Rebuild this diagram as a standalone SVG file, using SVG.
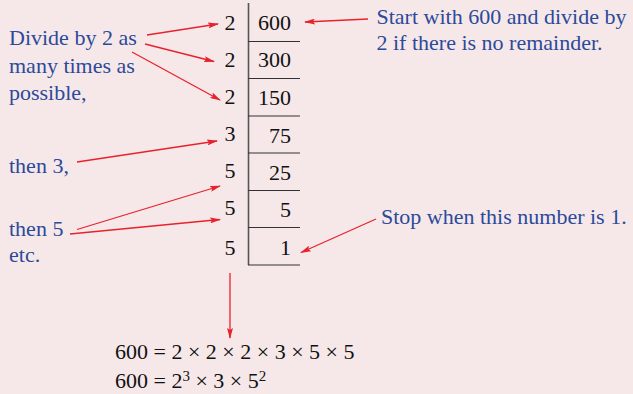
<svg xmlns="http://www.w3.org/2000/svg" width="633" height="394" viewBox="0 0 633 394">
<defs>
<marker id="ah" markerWidth="11" markerHeight="6" refX="10" refY="3" orient="auto" markerUnits="userSpaceOnUse">
<path d="M0,0 L11,3 L0,6 L2,3 Z" fill="#e8222c"/>
</marker>
<style>
.bg{fill:#f6e8e9}
.blue{font-family:"Liberation Serif","Times New Roman",serif;font-size:22px;fill:#2c4a9a}
.num{font-family:"Liberation Serif","Times New Roman",serif;font-size:22px;fill:#111}
.div{text-anchor:middle}
.val{text-anchor:end}
.rule{stroke:#333;stroke-width:1.2;fill:none}
.vrule{stroke:#555;stroke-width:1.6;fill:none}
.arr{stroke:#e8222c;stroke-width:1.3;fill:none;marker-end:url(#ah)}
</style>
</defs>
<rect class="bg" x="0" y="0" width="633" height="394"/>

<g id="table">
<line class="vrule" x1="248.5" y1="3" x2="248.5" y2="265"/>
<line class="rule" x1="248" y1="41.5" x2="300" y2="41.5"/>
<line class="rule" x1="248" y1="78.5" x2="300" y2="78.5"/>
<line class="rule" x1="248" y1="116" x2="300" y2="116"/>
<line class="rule" x1="248" y1="153" x2="300" y2="153"/>
<line class="rule" x1="248" y1="190.5" x2="300" y2="190.5"/>
<line class="rule" x1="248" y1="227.5" x2="300" y2="227.5"/>
<line class="rule" x1="248" y1="265" x2="300" y2="265"/>
</g>

<g id="divisors" class="num div">
<text class="num div" x="230" y="30">2</text>
<text class="num div" x="230" y="67">2</text>
<text class="num div" x="230" y="104">2</text>
<text class="num div" x="230" y="141">3</text>
<text class="num div" x="230" y="178">5</text>
<text class="num div" x="230" y="215">5</text>
<text class="num div" x="230" y="255">5</text>
</g>

<g id="values">
<text class="num val" x="291" y="30">600</text>
<text class="num val" x="291" y="67">300</text>
<text class="num val" x="291" y="104.5">150</text>
<text class="num val" x="291" y="143">75</text>
<text class="num val" x="291" y="180">25</text>
<text class="num val" x="291" y="217">5</text>
<text class="num val" x="291" y="255">1</text>
</g>

<g id="note-divide2">
<text class="blue" x="9" y="45">Divide by 2 as</text>
<text class="blue" x="9" y="72.5">many times as</text>
<text class="blue" x="9" y="99.5">possible,</text>
</g>

<g id="note-start">
<text class="blue" x="376.5" y="24">Start with 600 and divide by</text>
<text class="blue" x="376.5" y="50">2 if there is no remainder.</text>
</g>

<g id="note-then3">
<text class="blue" x="9" y="173">then 3,</text>
</g>

<g id="note-then5">
<text class="blue" x="9" y="236">then 5</text>
<text class="blue" x="9" y="262">etc.</text>
</g>

<g id="note-stop">
<text class="blue" x="381" y="224">Stop when this number is 1.</text>
</g>

<g id="result">
<text class="num" x="115" y="359">600 = 2 × 2 × 2 × 3 × 5 × 5</text>
<text class="num" x="115" y="388">600 = 2<tspan font-size="15" dy="-7">3</tspan><tspan dy="7"> × 3 × 5</tspan><tspan font-size="15" dy="-7">2</tspan></text>
</g>

<g id="connectors">
<line class="arr" x1="147" y1="35" x2="218" y2="24"/>
<line class="arr" x1="145" y1="44" x2="214" y2="61.5"/>
<line class="arr" x1="132" y1="52" x2="220" y2="100"/>
<line class="arr" x1="368" y1="19" x2="305" y2="22"/>
<line class="arr" x1="77" y1="162" x2="217" y2="141"/>
<line class="arr" x1="77" y1="229.5" x2="220" y2="186"/>
<line class="arr" x1="70" y1="234" x2="220" y2="219.5"/>
<line class="arr" x1="376" y1="219" x2="301" y2="252.5"/>
<line class="arr" x1="230" y1="273" x2="230" y2="338"/>
</g>
</svg>
